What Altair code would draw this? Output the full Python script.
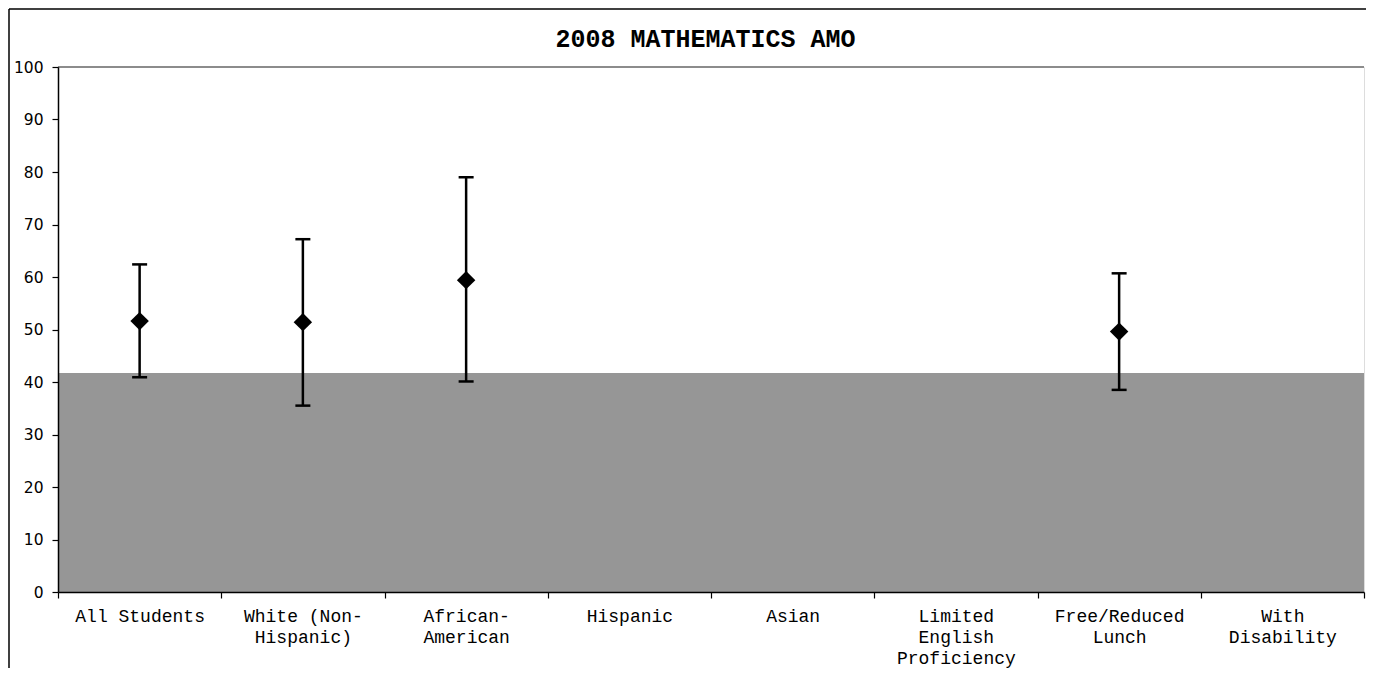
import altair as alt
import pandas as pd

# ---- data ----
categories = ["All Students", "White (Non-Hispanic)", "African-American", "Hispanic",
              "Asian", "Limited English Proficiency", "Free/Reduced Lunch", "With Disability"]
label_lines = [["All Students"], ["White (Non-", "Hispanic)"], ["African-", "American"],
               ["Hispanic"], ["Asian"], ["Limited", "English", "Proficiency"],
               ["Free/Reduced", "Lunch"], ["With", "Disability"]]
score = [51.6, 51.4, 59.4, None, None, None, 49.6, None]
lower = [40.9, 35.5, 40.1, None, None, None, 38.5, None]
upper = [62.4, 67.2, 79.0, None, None, None, 60.7, None]
amo_target = 41.7
title_text = "2008 MATHEMATICS AMO"
y_ticks = list(range(0, 101, 10))

W, H = 1306, 525

df = pd.DataFrame({"group": categories, "score": score, "lower": lower, "upper": upper})
df_valid = df.dropna()
amo_df = pd.DataFrame({"base": [0], "amo": [amo_target]})
one = pd.DataFrame({"k": [0]})

label_map = "{" + ",".join(
    "'" + c + "':[" + ",".join("'" + l + "'" for l in lines) + "]"
    for c, lines in zip(categories, label_lines)) + "}"

x_enc = alt.X("group:N", sort=categories,
              scale=alt.Scale(domain=categories, paddingInner=0, paddingOuter=0),
              axis=alt.Axis(title=None, labelAngle=0, tickBand="extent",
                            labelExpr=label_map + "[datum.label]",
                            labelFont="Liberation Mono", labelFontSize=18,
                            labelLineHeight=21, labelPadding=9, labelColor="black",
                            tickColor="black", tickSize=6, tickWidth=1.2,
                            domainColor="black", domainWidth=1.5,
                            labelOverlap=False, labelBound=False, zindex=1))
y_scale = alt.Scale(domain=[0, 100], nice=False)
y_axis = alt.Axis(title=None, values=y_ticks, grid=False,
                  labelFont="DejaVu Sans", labelFontSize=15.5, labelColor="black",
                  labelPadding=9, tickColor="black", tickSize=6, tickWidth=1.2,
                  domainColor="black", domainWidth=1.5, zindex=1)

band = alt.Chart(amo_df).mark_rect(color="#969696").encode(
    y=alt.Y("base:Q", scale=y_scale, axis=y_axis),
    y2="amo:Q",
    x=alt.value(0), x2=alt.value("width"))

top_line = alt.Chart(one).mark_rule(color="#8c8c8c", strokeWidth=2).encode(
    y=alt.datum(100), x=alt.value(0), x2=alt.value("width"))

bars = alt.Chart(df_valid).mark_rule(color="black", strokeWidth=2.5).encode(
    x=x_enc, y=alt.Y("lower:Q", scale=y_scale), y2="upper:Q")

caps = alt.Chart(df_valid).transform_fold(["lower", "upper"], as_=["end", "val"]).mark_tick(
    color="black", size=15, thickness=2.5, opacity=1).encode(
    x=alt.X("group:N", sort=categories), y=alt.Y("val:Q", scale=y_scale))

points = alt.Chart(df_valid).mark_point(shape="diamond", filled=True, size=340,
                                         color="black", opacity=1).encode(
    x=alt.X("group:N", sort=categories), y=alt.Y("score:Q", scale=y_scale))

border_left = alt.Chart(one).mark_rule(color="black", strokeWidth=1.5).encode(
    x=alt.value(-49), y=alt.value(-58), y2=alt.value(H + 120))
border_top = alt.Chart(one).mark_rule(color="black", strokeWidth=1.5).encode(
    x=alt.value(-49), x2=alt.value(W + 60), y=alt.value(-58))

title = alt.Chart(one).mark_text(text=title_text, font="Liberation Mono", fontSize=25,
                                 fontWeight="bold", color="black", align="center",
                                 baseline="alphabetic").encode(
    x=alt.value(647.5), y=alt.value(-20))

chart = alt.layer(band, top_line, bars, caps, points, border_left, border_top, title).properties(
    width=W, height=H,
    autosize=alt.AutoSizeParams(type="none"),
    padding={"left": 50, "top": 59, "right": 2, "bottom": 76},
).configure_view(stroke=None).configure(background="white")

chart.save("out.html", embed_options={"renderer": "svg", "actions": False})
